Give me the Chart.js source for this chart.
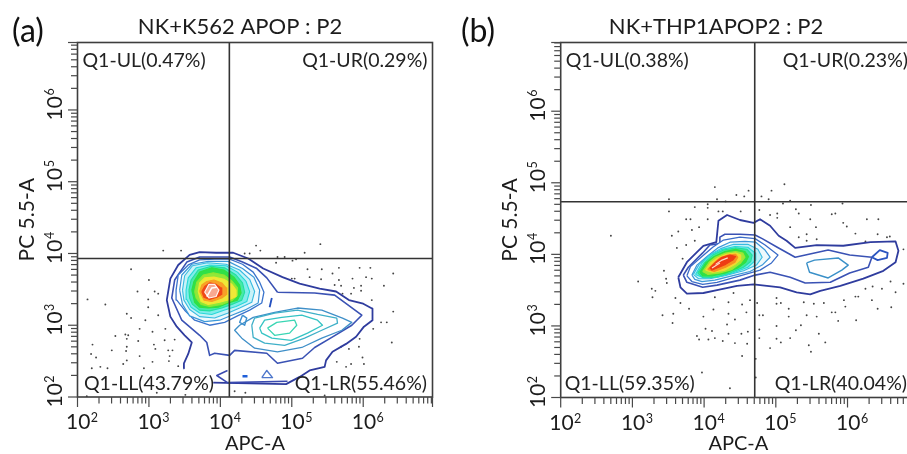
<!DOCTYPE html>
<html><head><meta charset="utf-8">
<script src="https://cdn.jsdelivr.net/npm/chart.js@4"></script>
<style>
html,body{margin:0;padding:0;background:#fff;}
#wrap{position:relative;width:907px;height:454px;overflow:hidden;background:#fff;}
canvas{position:absolute;top:0;filter:blur(0.35px);}
</style></head><body>
<div id="wrap">
<canvas id="ca" width="480" height="454" style="left:0"></canvas>
<canvas id="cb" width="522" height="454" style="left:455px"></canvas>
</div>
<script>
// All contour and event values are log10(signal) pairs [APC-A, PC 5.5-A].
const tickBase = ['10','10','10','10','10'];
const tickExp = ['2','3','4','5','6'];
const tickDecades = [100,1000,10000,100000,1000000];
const minorMultipliers = [2,3,4,5,6,7,8,9];
const panelTitles = ['NK+K562 APOP : P2','NK+THP1APOP2 : P2'];
const panelLetters = ['(a)','(b)'];
const xAxisName = 'APC-A';
const yAxisName = 'PC 5.5-A';
const aQuadLabels = ['Q1-UL(0.47%)','Q1-UR(0.29%)','Q1-LL(43.79%)','Q1-LR(55.46%)'];
const bQuadLabels = ['Q1-UL(0.38%)','Q1-UR(0.23%)','Q1-LL(59.35%)','Q1-LR(40.04%)'];
const aGate = [4.126,3.93];
const bGate = [4.706,4.735];

const aOuter=[[3.48,2.40],[3.49,2.47],[3.55,2.60],[3.60,2.76],[3.50,2.86],[3.39,2.98],[3.30,3.12],[3.25,3.35],[3.30,3.65],[3.41,3.84],[3.57,3.98],[3.71,4.02],[3.94,4.01],[4.18,4.01],[4.39,3.93],[4.60,3.79],[4.87,3.67],[5.11,3.58],[5.39,3.51],[5.62,3.47],[5.80,3.35],[6.00,3.30],[6.13,3.23],[6.13,3.07],[6.01,2.98],[5.90,2.84],[5.76,2.74],[5.57,2.63],[5.48,2.51],[5.46,2.42],[5.25,2.37],[5.11,2.28],[4.92,2.18],[3.90,2.20]];
const aC2=[[4.80,3.46],[5.32,3.45],[5.60,3.42],[5.98,3.14],[5.84,3.00],[5.56,2.83],[5.32,2.69],[5.15,2.54],[4.80,2.47],[4.65,2.61],[4.20,2.65],[4.13,2.58],[3.92,2.61],[3.85,2.58],[3.81,2.76],[3.71,2.86],[3.46,3.07],[3.32,3.38],[3.36,3.63],[3.53,3.88],[3.71,3.95],[4.13,3.95],[4.31,3.88],[4.51,3.79],[4.65,3.66]];
const aC3=[[3.38,3.49],[3.41,3.70],[3.55,3.84],[3.71,3.91],[3.92,3.92],[4.13,3.92],[4.31,3.85],[4.46,3.74],[4.55,3.60],[4.61,3.46],[4.58,3.31],[4.41,3.21],[4.24,3.13],[4.06,3.04],[3.85,3.00],[3.64,3.07],[3.50,3.21],[3.39,3.35]];
const aC4=[[3.43,3.49],[3.46,3.70],[3.60,3.85],[3.83,3.89],[4.11,3.89],[4.31,3.79],[4.47,3.67],[4.55,3.49],[4.53,3.31],[4.34,3.21],[4.16,3.14],[3.99,3.07],[3.78,3.05],[3.57,3.13],[3.47,3.29]];
const aC5=[[3.47,3.49],[3.50,3.69],[3.61,3.83],[3.82,3.87],[4.08,3.85],[4.27,3.77],[4.41,3.64],[4.48,3.47],[4.44,3.32],[4.27,3.24],[4.11,3.17],[3.92,3.10],[3.71,3.12],[3.57,3.22],[3.49,3.35]];
const aC6=[[3.52,3.49],[3.55,3.66],[3.66,3.80],[3.85,3.84],[4.08,3.83],[4.24,3.74],[4.36,3.61],[4.41,3.47],[4.37,3.33],[4.22,3.26],[4.05,3.21],[3.88,3.15],[3.71,3.17],[3.59,3.25],[3.53,3.36]];
const aC7=[[3.56,3.49],[3.59,3.63],[3.69,3.77],[3.87,3.82],[4.06,3.80],[4.22,3.70],[4.31,3.59],[4.34,3.46],[4.30,3.35],[4.16,3.29],[4.02,3.24],[3.85,3.20],[3.71,3.21],[3.61,3.29],[3.57,3.38]];
const aC8=[[3.60,3.49],[3.63,3.61],[3.71,3.74],[3.88,3.80],[4.05,3.77],[4.19,3.67],[4.27,3.56],[4.29,3.45],[4.24,3.35],[4.11,3.31],[3.97,3.25],[3.83,3.24],[3.71,3.25],[3.64,3.32]];
const aC9=[[3.64,3.47],[3.67,3.60],[3.76,3.70],[3.90,3.73],[4.05,3.70],[4.17,3.61],[4.24,3.52],[4.24,3.42],[4.17,3.35],[4.02,3.29],[3.85,3.26],[3.73,3.29],[3.66,3.38]];
const aC10=[[3.69,3.47],[3.71,3.59],[3.78,3.66],[3.91,3.67],[4.05,3.64],[4.16,3.57],[4.22,3.49],[4.22,3.40],[4.13,3.36],[3.99,3.32],[3.83,3.29],[3.73,3.33]];
const aC11=[[3.71,3.47],[3.74,3.56],[3.81,3.61],[3.91,3.63],[4.02,3.59],[4.08,3.52],[4.09,3.43],[4.02,3.38],[3.88,3.33],[3.77,3.35]];
const aC12=[[3.74,3.47],[3.78,3.54],[3.85,3.59],[3.94,3.57],[4.01,3.52],[4.02,3.43],[3.95,3.39],[3.85,3.36],[3.77,3.39]];
const aC13=[[3.78,3.46],[3.84,3.57],[3.92,3.57],[3.98,3.49],[3.94,3.40],[3.84,3.38]];
const aCoreMark=[[3.81,3.40],[3.88,3.52],[3.95,3.53]];
const aD1=[[4.27,3.00],[4.46,3.11],[4.76,3.18],[5.08,3.24],[5.42,3.21],[5.71,3.10],[5.84,3.04],[5.70,2.93],[5.42,2.82],[5.14,2.69],[4.80,2.63],[4.48,2.68],[4.30,2.82],[4.20,2.93]];
const aD2=[[4.44,3.00],[4.48,3.10],[4.76,3.17],[5.08,3.21],[5.36,3.15],[5.63,3.10],[5.64,3.03],[5.42,2.93],[5.18,2.82],[4.90,2.72],[4.62,2.75],[4.46,2.83]];
const aD3=[[4.55,2.96],[4.62,3.07],[4.86,3.11],[5.14,3.14],[5.36,3.07],[5.43,3.00],[5.22,2.89],[4.99,2.79],[4.72,2.82],[4.58,2.89]];
const aD4=[[4.66,2.96],[4.79,3.04],[5.04,3.07],[5.07,3.00],[4.97,2.89],[4.76,2.86]];
const aBlob=[[4.31,3.14],[4.37,3.10],[4.34,3.00],[4.27,3.04]];
const aTri=[[4.58,2.27],[4.65,2.37],[4.73,2.27],[4.58,2.27]];
const aBottom=[[4.10,2.37],[3.95,2.30],[4.10,2.20],[4.94,2.22]];
const aDash=[[4.31,2.29],[4.38,2.29]];
const aNotch=[[4.72,3.38],[4.69,3.25]];

const bOuter=[[3.64,3.68],[3.76,3.89],[3.90,4.03],[3.99,4.12],[4.17,4.17],[4.20,4.47],[4.32,4.55],[4.50,4.48],[4.69,4.44],[4.78,4.49],[4.92,4.40],[5.04,4.26],[5.15,4.19],[5.27,4.09],[5.57,4.13],[5.94,4.12],[6.32,4.17],[6.67,4.18],[6.71,4.05],[6.67,3.89],[6.50,3.77],[6.22,3.66],[5.90,3.56],[5.62,3.49],[5.48,3.44],[5.29,3.47],[5.06,3.54],[4.69,3.58],[4.46,3.56],[4.18,3.50],[3.99,3.46],[3.76,3.45],[3.67,3.54]];
const bC2=[[3.71,3.71],[3.76,3.61],[3.98,3.54],[4.18,3.57],[4.50,3.64],[4.71,3.71],[4.92,3.75],[5.20,3.68],[5.41,3.60],[5.76,3.61],[6.03,3.74],[6.29,3.82],[6.34,3.96],[6.03,3.99],[5.73,4.06],[5.27,3.96],[5.02,4.10],[4.81,4.22],[4.71,4.27],[4.50,4.28],[4.29,4.28],[4.22,4.24],[4.22,4.15],[4.08,4.13],[3.98,4.02],[3.78,3.82]];
const bLoop=[[6.34,3.96],[6.45,4.06],[6.56,4.02],[6.55,3.95],[6.42,3.92]];
const bD=[[5.43,3.88],[5.54,3.92],[5.87,3.95],[6.01,3.85],[5.92,3.78],[5.73,3.67],[5.47,3.75]];
const bC3=[[3.76,3.70],[3.81,3.83],[3.97,3.97],[4.12,4.10],[4.27,4.20],[4.50,4.24],[4.71,4.22],[4.85,4.13],[5.03,3.99],[4.94,3.88],[4.78,3.78],[4.50,3.70],[4.18,3.61],[3.98,3.58],[3.83,3.62]];
const bC4=[[3.83,3.71],[3.90,3.85],[4.04,3.97],[4.19,4.09],[4.36,4.17],[4.57,4.18],[4.72,4.17],[4.85,4.06],[4.92,3.96],[4.81,3.85],[4.64,3.76],[4.39,3.70],[4.15,3.64],[3.97,3.62],[3.87,3.65]];
const bC5=[[3.85,3.72],[3.93,3.86],[4.06,3.98],[4.23,4.08],[4.41,4.14],[4.61,4.14],[4.75,4.07],[4.81,3.96],[4.73,3.85],[4.55,3.77],[4.29,3.70],[4.08,3.66],[3.92,3.66]];
const bC6=[[3.88,3.72],[3.97,3.88],[4.09,3.99],[4.25,4.07],[4.43,4.11],[4.61,4.10],[4.71,4.02],[4.72,3.92],[4.61,3.82],[4.40,3.74],[4.18,3.68],[4.00,3.67]];
const bC7=[[3.91,3.74],[4.00,3.88],[4.12,3.99],[4.27,4.06],[4.44,4.09],[4.60,4.07],[4.67,3.99],[4.65,3.90],[4.55,3.82],[4.36,3.74],[4.15,3.68],[3.98,3.68]];
const bC8=[[3.94,3.75],[4.02,3.88],[4.14,3.97],[4.29,4.04],[4.44,4.07],[4.57,4.04],[4.62,3.97],[4.58,3.89],[4.47,3.81],[4.30,3.74],[4.12,3.70],[3.98,3.70]];
const bC9=[[3.98,3.76],[4.07,3.89],[4.16,3.96],[4.30,4.02],[4.44,4.04],[4.54,4.02],[4.57,3.96],[4.51,3.88],[4.39,3.79],[4.22,3.74],[4.05,3.72]];
const bC10=[[4.02,3.78],[4.09,3.88],[4.19,3.95],[4.31,4.00],[4.44,4.02],[4.51,3.99],[4.51,3.93],[4.43,3.86],[4.29,3.78],[4.12,3.75]];
const bC11=[[4.05,3.79],[4.14,3.88],[4.22,3.95],[4.33,3.99],[4.44,4.00],[4.47,3.96],[4.43,3.89],[4.30,3.82],[4.14,3.76]];
const bC12=[[4.08,3.81],[4.16,3.89],[4.25,3.96],[4.36,3.99],[4.44,3.97],[4.40,3.92],[4.30,3.86],[4.18,3.81],[4.11,3.78]];
const bCoreMark=[[4.16,3.86],[4.25,3.92],[4.33,3.95]];
const bCoreMark2=[[4.11,3.81],[4.22,3.88]];

const aEvents=[[2.14,3.36],[2.39,3.29],[2.75,3.78],[2.84,3.47],[3.00,3.63],[2.99,3.36],[2.99,3.25],[2.69,3.16],[2.75,3.10],[2.95,3.07],[3.13,3.14],[3.08,3.47],[3.13,3.44],[2.53,2.85],[2.67,2.87],[2.71,2.86],[2.69,2.81],[2.87,2.95],[2.85,2.78],[2.69,2.70],[2.68,2.64],[2.48,2.65],[2.21,2.73],[2.19,2.60],[2.26,2.55],[2.69,2.51],[2.87,2.57],[3.07,2.73],[3.09,2.67],[3.22,2.79],[3.36,2.80],[3.27,2.65],[3.33,2.65],[3.29,2.57],[3.05,2.49],[2.64,2.46],[2.32,2.42],[2.42,2.40],[2.20,2.40],[2.93,2.40],[3.28,2.50],[3.41,2.43],[3.20,4.04],[3.45,4.04],[3.11,2.06],[3.51,2.03],[2.13,2.01],[3.05,2.91],[3.23,2.95],[4.34,4.00],[4.41,4.00],[4.50,4.11],[4.56,4.04],[5.40,4.13],[4.80,3.95],[4.90,3.95],[5.01,3.90],[5.06,3.92],[5.18,4.01],[4.78,3.87],[5.22,3.78],[5.42,3.78],[5.57,3.72],[5.66,3.80],[5.95,3.80],[6.10,3.80],[6.42,3.72],[5.25,3.67],[5.04,3.65],[5.00,3.65],[5.41,3.64],[5.66,3.63],[5.85,3.65],[6.04,3.67],[6.12,3.65],[6.29,3.55],[5.97,3.55],[5.87,3.52],[5.60,3.56],[5.69,3.55],[5.71,3.44],[5.83,3.44],[5.97,3.48],[6.12,3.35],[6.42,3.19],[6.25,3.04],[6.33,3.04],[6.14,2.95],[6.40,2.76],[5.95,2.81],[5.94,2.70],[5.80,2.67],[5.69,2.70],[5.63,2.49],[5.83,2.46],[5.76,2.42],[6.01,2.46],[5.99,2.55],[4.20,2.08],[4.35,2.06],[5.46,2.02]];
const bEvents=[[2.70,4.26],[3.08,3.62],[3.51,4.77],[3.51,4.60],[4.15,4.94],[4.18,4.77],[4.45,4.83],[4.56,4.81],[4.62,4.89],[4.80,4.81],[4.94,4.89],[5.12,4.98],[4.90,4.77],[4.30,4.74],[3.87,4.66],[4.05,4.70],[4.05,4.65],[4.20,4.60],[4.26,4.60],[4.51,4.60],[3.75,4.49],[3.81,4.49],[4.05,4.49],[3.93,4.38],[3.83,4.34],[3.64,4.32],[3.55,4.26],[3.87,4.19],[3.75,4.13],[3.62,4.09],[3.70,3.94],[3.44,3.77],[3.47,3.66],[3.48,3.60],[3.27,3.52],[3.32,3.49],[3.28,3.40],[3.60,3.39],[3.67,3.32],[3.79,3.24],[3.42,3.15],[3.57,3.17],[3.56,3.04],[4.15,3.40],[4.41,3.46],[4.34,3.33],[4.53,3.30],[4.64,3.36],[4.13,3.23],[3.99,3.13],[4.34,3.17],[4.43,3.09],[4.59,3.19],[4.02,2.96],[4.11,2.93],[4.32,3.02],[4.34,2.89],[4.52,2.89],[4.61,2.92],[3.90,2.86],[3.93,2.81],[4.06,2.81],[4.15,2.83],[4.26,2.79],[4.43,2.76],[4.60,2.75],[4.53,2.58],[3.97,2.35],[4.36,2.13],[4.72,2.54],[4.72,2.28],[4.74,3.32],[4.77,3.15],[4.82,3.15],[4.77,2.95],[4.77,2.83],[4.92,2.69],[5.01,3.00],[5.01,3.39],[5.01,3.31],[5.07,3.32],[5.18,3.24],[5.18,3.13],[5.01,2.82],[5.07,2.77],[5.20,2.83],[5.28,2.94],[5.35,3.01],[5.39,3.33],[5.53,3.31],[5.67,3.32],[5.43,3.15],[5.57,3.13],[5.78,3.19],[5.83,3.19],[5.87,3.07],[5.95,3.36],[5.97,3.27],[6.11,3.41],[6.15,3.41],[6.12,3.08],[6.34,3.36],[6.42,3.24],[6.61,3.26],[6.25,3.52],[6.35,3.55],[6.48,3.52],[6.67,3.47],[6.60,3.62],[6.78,3.59],[5.60,2.89],[5.69,2.77],[5.46,2.73],[5.49,2.64],[4.77,4.62],[4.92,4.55],[5.02,4.57],[5.02,4.51],[5.20,4.38],[5.28,4.63],[5.32,4.57],[5.49,4.69],[5.48,4.49],[5.56,4.38],[5.43,4.28],[5.32,4.24],[5.43,4.19],[5.57,4.21],[5.78,4.56],[5.83,4.57],[5.94,4.44],[5.99,4.39],[6.11,4.29],[6.27,4.49],[6.43,4.49],[6.42,4.28],[6.25,4.18],[6.55,4.24],[6.59,4.25],[5.93,4.71],[5.10,4.71],[5.20,4.75],[6.78,4.07]];

// Drawing order runs outermost first. Each row: contour, line colour, fill colour or null, line width, closed.
const aLevels=[
 [aOuter,'#2f3c9e',null,1.8,false],[aC2,'#3a52b4',null,1.6,true],[aBottom,'#3a4ab0',null,1.6,false],[aDash,'#1f5fd8',null,2.4,false],[aTri,'#4f78cc',null,1.4,false],[aNotch,'#2450c0',null,1.8,false],[aBlob,'#3d90d0',null,1.4,true],
 [aD1,'#3f8fc8',null,1.3,true],[aD2,'#3fb0c8',null,1.3,true],[aD3,'#35c4c4',null,1.3,true],[aD4,'#3ad6b4',null,1.3,true],
 [aC3,'#3b74cc','#ffffff',1.3,true],[aC4,'#3c98d8','#f0fafd',1.2,true],[aC5,'#38bbe0','#c8f2f8',1.1,true],[aC6,'#28d8d8','#80ecea',1.1,true],[aC7,'#20e0a0','#48e8a8',1.1,true],[aC8,'#30e040','#30e048',1.1,true],[aC9,'#90e630','#90e83a',1.1,true],[aC10,'#f0e830','#eee838',1.1,true],[aC11,'#f8a020','#f8a028',1.1,true],[aC12,'#f04818','#f04818',1.1,true],[aC13,'#fff4ee','#f8a890',1.2,true],[aCoreMark,'#ffffff',null,1.5,false]
];
const bLevels=[
 [bOuter,'#2f3c9e',null,1.8,true],[bC2,'#3a52b4',null,1.6,true],[bLoop,'#2b55c0',null,1.8,true],[bD,'#3a90c8',null,1.4,true],
 [bC3,'#3b6cc8','#ffffff',1.3,true],[bC4,'#3c98d8','#eef9fc',1.2,true],[bC5,'#38bbe0','#c0f0f8',1.1,true],[bC6,'#28d8d8','#78eae6',1.1,true],[bC7,'#20e0a0','#40e8a0',1.1,true],[bC8,'#30e040','#30e048',1.1,true],[bC9,'#a0e630','#a0e838',1.1,true],[bC10,'#f4d830','#f4d830',1.1,true],[bC11,'#f89020','#f89020',1.1,true],[bC12,'#ee3c14','#ee3c14',1.1,true],[bCoreMark,'#ffd8c8',null,1.2,false],[bCoreMark2,'#ffd8c8',null,1.2,false]
];

const toPoints=(pts,closed)=>{const o=pts.map(p=>({x:Math.pow(10,p[0]),y:Math.pow(10,p[1])}));if(closed)o.push(o[0]);return o;};

const drawPlugin={
 id:'flowDecor',
 afterDraw(chart,args,opts){
  const c=chart.ctx,a=chart.chartArea,sx=chart.scales.x,sy=chart.scales.y;
  c.save();
  c.strokeStyle='#3e3e3e';c.lineWidth=1.6;c.strokeRect(a.left,a.top,a.right-a.left,a.bottom-a.top);
  c.lineWidth=1.2;c.strokeStyle='#484848';
  const isMajor=t=>tickDecades.indexOf(t.value)>=0||t.value===sx.max||t.value===sy.max;
  sx.ticks.forEach(t=>{const p=sx.getPixelForValue(t.value);const l=isMajor(t)?10:6.5;c.beginPath();c.moveTo(p,a.bottom);c.lineTo(p,a.bottom+l);c.stroke();});
  sy.ticks.forEach(t=>{const p=sy.getPixelForValue(t.value);const l=isMajor(t)?9.5:6.5;c.beginPath();c.moveTo(a.left,p);c.lineTo(a.left-l,p);c.stroke();});
  c.fillStyle='#1c1c1c';c.textBaseline='alphabetic';
  tickDecades.forEach((v,i)=>{
    const px=sx.getPixelForValue(v);
    c.textAlign='left';
    c.font='21px Lato';
    const w=c.measureText(tickBase[i]).width;
    c.fillText(tickBase[i],px-11.5,a.bottom+32);
    c.font='12.5px Lato';
    c.fillText(tickExp[i],px-11.5+w+0.5,a.bottom+25);
    const py=sy.getPixelForValue(v);
    c.save();c.translate(a.left-15.5,py);c.rotate(-Math.PI/2);
    c.font='21px Lato';
    c.fillText(tickBase[i],-10.5,0);
    c.font='12.5px Lato';
    c.fillText(tickExp[i],-10.5+w+0.5,-8);
    c.restore();
  });
  c.font='19.5px Lato';c.fillStyle='#222';
  const L=opts.quad;
  c.textAlign='left';
  c.fillText(L[0],a.left+opts.ulX,a.top+24);
  c.fillText(L[2],a.left+opts.llX,a.bottom-7.5);
  c.textAlign='right';
  c.fillText(L[1],a.right-opts.urX,a.top+24);
  c.fillText(L[3],a.right-opts.lrX,a.bottom-7.5);
  c.font='32px Lato';c.fillStyle='#111';c.textAlign='left';
  c.fillText(opts.letter,opts.letterX,42);
  c.restore();
 }
};

function makePanel(id,idx,levels,events,gate,quad,geo){
 const xMax=Math.pow(10,geo.xTop),yMax=Math.pow(10,geo.yTop);
 const sets=[];
 sets.push({data:toPoints(events,false),showLine:false,pointRadius:0.95,pointBackgroundColor:'#444',pointBorderWidth:0,order:100});
 levels.forEach((row,i)=>{
  sets.push({data:toPoints(row[0],row[4]),showLine:true,pointRadius:0,tension:0,borderColor:row[1],borderWidth:row[3],
   backgroundColor:row[2]||'transparent',fill:row[2]?'shape':false,order:90-i,borderJoinStyle:'round'});
 });
 const gateLine=(pts)=>({data:pts,showLine:true,pointRadius:0,tension:0,borderColor:'#333',borderWidth:1.6,fill:false,order:1});
 sets.push(gateLine([{x:Math.pow(10,gate[0]),y:100},{x:Math.pow(10,gate[0]),y:yMax}]));
 sets.push(gateLine([{x:100,y:Math.pow(10,gate[1])},{x:xMax,y:Math.pow(10,gate[1])}]));
 const allTicks=(top)=>{const t=[];tickDecades.forEach(d=>{t.push({value:d});minorMultipliers.forEach(m=>{if(d*m<=top)t.push({value:d*m});});});t.push({value:top});return t;};
 new Chart(document.getElementById(id),{
  type:'scatter',
  data:{datasets:sets},
  options:{
   responsive:false,animation:false,devicePixelRatio:1,
   layout:{padding:0},
   plugins:{legend:{display:false},tooltip:{enabled:false},
    title:{display:true,text:panelTitles[idx],color:'#1c1c1c',font:{family:'Lato',size:geo.titleSize,weight:'normal',lineHeight:1.2},padding:{top:geo.titleTop,bottom:geo.titleBottom}},
    flowDecor:{quad:quad,ulX:geo.ulX,urX:geo.urX,llX:geo.llX,lrX:geo.lrX,letter:panelLetters[idx],letterX:geo.letterX}},
   scales:{
    x:{type:'logarithmic',min:100,max:xMax,grid:{display:false},border:{display:false},
       ticks:{display:false},afterBuildTicks:s=>{s.ticks=allTicks(xMax);},
       afterFit:s=>{s.height=geo.xHeight;},
       title:{display:true,text:xAxisName,color:'#1c1c1c',font:{family:'Lato',size:20,lineHeight:1},padding:{top:0,bottom:0}}},
    y:{type:'logarithmic',min:100,max:yMax,grid:{display:false},border:{display:false},
       ticks:{display:false},afterBuildTicks:s=>{s.ticks=allTicks(yMax);},
       afterFit:s=>{s.width=geo.yWidth;},
       title:{display:true,text:yAxisName,color:'#1c1c1c',font:{family:'Lato',size:21,lineHeight:1},padding:{top:geo.yTitleTop,bottom:0}}},
    spacer:{axis:'y',type:'linear',position:'right',display:true,grid:{display:false},border:{display:false},ticks:{display:false},
       afterFit:s=>{s.width=geo.padRight;}}
   }
  },
  plugins:[drawPlugin]
 });
}
makePanel('ca',0,aLevels,aEvents,aGate,aQuadLabels,{xTop:6.97,yTop:6.94,padRight:47.5,titleSize:22,titleTop:13.8,titleBottom:2.3,xHeight:57,yWidth:77.5,yTitleTop:17,ulX:5,urX:5,llX:6.5,lrX:5.5,letterX:12});
makePanel('cb',1,bLevels,bEvents,bGate,bQuadLabels,{xTop:6.955,yTop:6.96,padRight:61,titleSize:22,titleTop:13.8,titleBottom:2.3,xHeight:56.5,yWidth:105.7,yTitleTop:45,ulX:5,urX:8,llX:4,lrX:9,letterX:6});
</script>
</body></html>
